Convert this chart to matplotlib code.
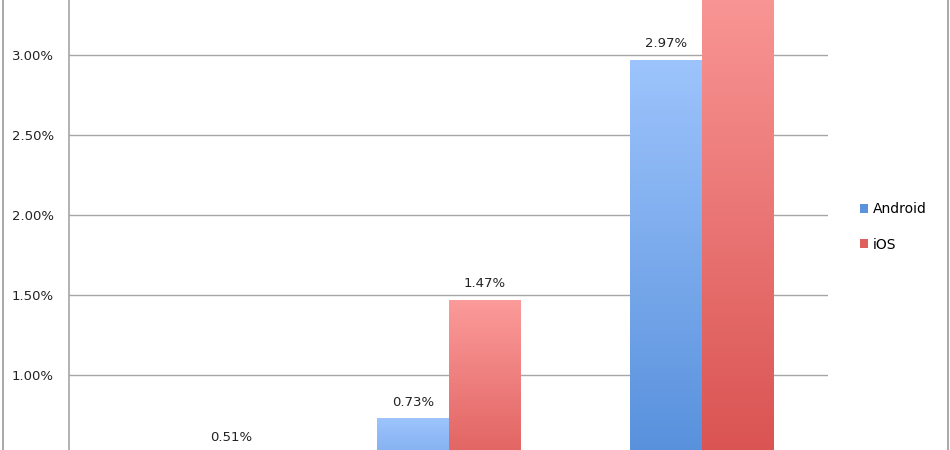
import numpy as np
import matplotlib
matplotlib.use('Agg')
import matplotlib.pyplot as plt
from matplotlib.colors import LinearSegmentedColormap
from matplotlib.lines import Line2D
from matplotlib.patches import Patch

# Values (in percent); category labels sit below the visible crop
categories = ['Group 1', 'Group 2', 'Group 3']
android = [0.30, 0.73, 2.97]
ios = [0.51, 1.47, 3.60]
series_names = ['Android', 'iOS']
yticks = [1.0, 1.5, 2.0, 2.5, 3.0]

W, H = 950, 450
fig = plt.figure(figsize=(W / 100, H / 100), dpi=100)
fig.patch.set_facecolor('white')

left, right = 69, 828
ax = fig.add_axes([left / W, 0, (right - left) / W, 1])
ymin, ymax = 0.531, 3.344

grid_col = '#a6a6a6'
ax.set_yticks(yticks)
ax.set_yticklabels([f'{v:.2f}%' for v in yticks], fontsize=9.5, color='#222222')
ax.tick_params(axis='y', length=0, pad=11)
ax.tick_params(axis='x', length=0, labelbottom=False)
ax.grid(axis='y', color=grid_col, linewidth=1)
ax.set_axisbelow(True)
for s in ['top', 'right', 'bottom']:
    ax.spines[s].set_visible(False)
ax.spines['left'].set_color(grid_col)
ax.spines['left'].set_linewidth(1.2)

bw = 0.282
x = np.arange(len(categories))
cmaps = [
    LinearSegmentedColormap.from_list('and', ['#4a86d6', '#9dc4fc']),
    LinearSegmentedColormap.from_list('ios', ['#d44846', '#fb9b9a']),
]
grad = np.linspace(0, 1, 256).reshape(-1, 1)

for i, (vals, cmap) in enumerate(zip([android, ios], cmaps)):
    offs = x + (i - 0.5) * bw
    bars = ax.bar(offs, vals, width=bw, color='none', edgecolor='none', zorder=2)
    for b, v in zip(bars, vals):
        im = ax.imshow(grad, cmap=cmap, origin='lower', aspect='auto',
                       extent=[b.get_x(), b.get_x() + bw, 0, v], zorder=2)
        im.set_clip_path(b)
        # labels outside the visible range are cut off, as in the cropped original
        if ymin + 0.05 < v + 0.12 < ymax:
            ax.text(b.get_x() + bw / 2, v + 0.06, f'{v:.2f}%', ha='center', va='bottom',
                    fontsize=9.5, color='#222222', zorder=3)
ax.set_xlim(-0.5, len(categories) - 0.5)
ax.set_ylim(ymin, ymax)

# legend
handles = [Patch(facecolor='#5a92dc'), Patch(facecolor='#e0605e')]
fig.legend(handles, series_names, loc='center left', bbox_to_anchor=(847 / W, 1 - 227 / H),
           frameon=False, fontsize=10, handlelength=0.6, handleheight=0.6,
           handletextpad=0.35, labelspacing=1.55)

# outer frame edges
fig.add_artist(Line2D([2.5 / W, 2.5 / W], [0, 1], color='#9a9a9a', lw=1.2))
fig.add_artist(Line2D([947.5 / W, 947.5 / W], [0, 1], color='#9a9a9a', lw=1.2))

fig.savefig('out.png', dpi=100, facecolor='white')
